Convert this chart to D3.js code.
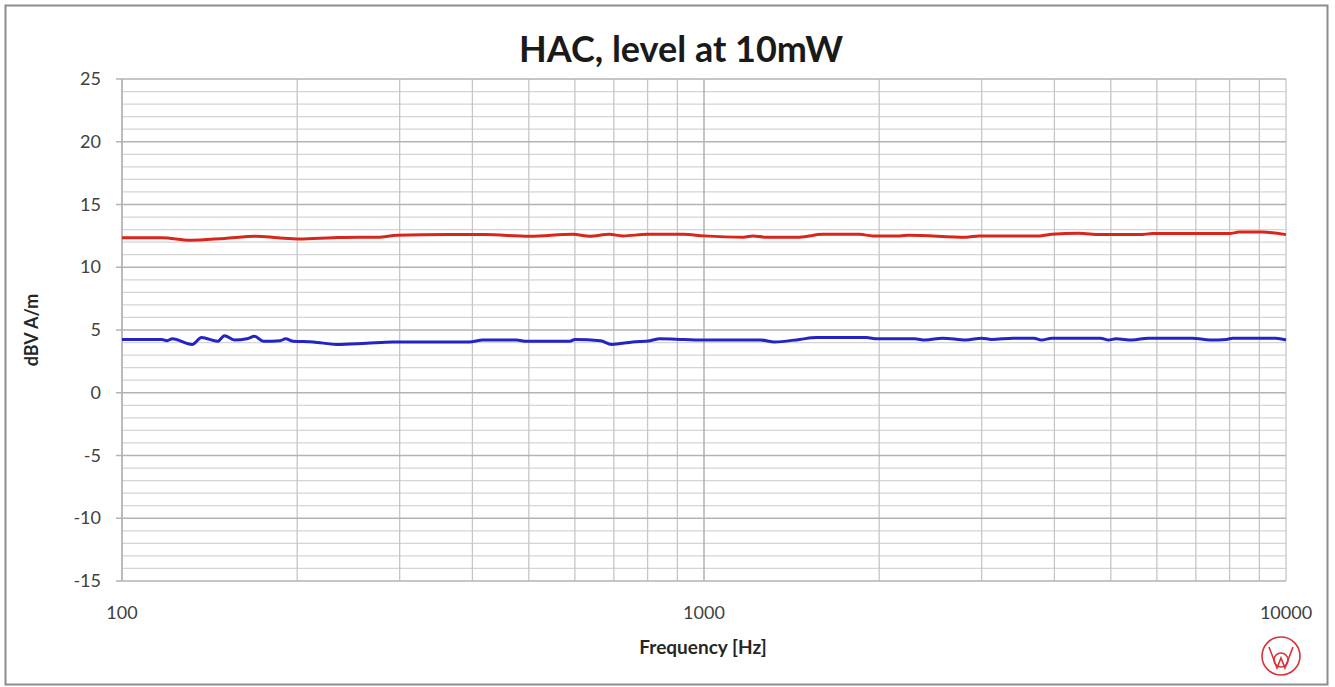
<!DOCTYPE html>
<html>
<head>
<meta charset="utf-8">
<script src="https://cdn.jsdelivr.net/npm/d3@7"></script>
<style>
  body { margin: 0; background: #fff; }
  text { font-family: Lato, "Open Sans", sans-serif; }
</style>
</head>
<body>
<div id="chart"></div>
<script>
// frequency points (Hz) and levels (dBV A/m)
const redFreq = [100, 117, 131, 150, 170, 185, 202, 230, 256, 275, 297, 361, 420, 502, 595, 636, 688, 725, 800, 920, 1000, 1170, 1213, 1275, 1460, 1600, 1850, 1950, 2170, 2250, 2820, 2970, 3780, 3960, 4400, 4800, 5600, 5900, 8000, 8300, 9100, 10000]
const redLevel = [12.35, 12.35, 12.15, 12.3, 12.47, 12.35, 12.25, 12.35, 12.4, 12.4, 12.55, 12.6, 12.6, 12.47, 12.62, 12.47, 12.62, 12.5, 12.62, 12.62, 12.5, 12.4, 12.5, 12.4, 12.4, 12.62, 12.62, 12.5, 12.5, 12.55, 12.4, 12.5, 12.5, 12.62, 12.7, 12.6, 12.6, 12.68, 12.68, 12.8, 12.8, 12.6]

const blueFreq = [100, 117, 119.5, 122, 132, 137, 146, 150, 156, 164, 169, 175, 187, 191, 197, 213, 234, 263, 292, 361, 395, 417, 476, 496, 588, 600, 664, 694, 754, 808, 840, 921, 1000, 1250, 1322, 1460, 1560, 1900, 1985, 2300, 2400, 2570, 2820, 3000, 3120, 3400, 3690, 3800, 3960, 4800, 4960, 5100, 5440, 5800, 6900, 7400, 7900, 8100, 9600, 10000]
const blueLevel = [4.24, 4.24, 4.15, 4.3, 3.85, 4.4, 4.1, 4.55, 4.2, 4.3, 4.5, 4.1, 4.15, 4.3, 4.1, 4.05, 3.85, 3.95, 4.05, 4.05, 4.05, 4.2, 4.2, 4.1, 4.1, 4.25, 4.15, 3.85, 4.05, 4.15, 4.3, 4.25, 4.2, 4.2, 4.05, 4.25, 4.4, 4.4, 4.3, 4.3, 4.2, 4.35, 4.2, 4.35, 4.25, 4.35, 4.35, 4.2, 4.35, 4.35, 4.2, 4.3, 4.2, 4.35, 4.35, 4.2, 4.25, 4.35, 4.35, 4.2]

const yTicks = [-15, -10, -5, 0, 5, 10, 15, 20, 25]
const xTicks = [100, 1000, 10000]

let width = 1335,
    height = 687
let margin = {left: 122, right: 49, top: 79, bottom: 105}

let svg = d3.select("#chart").append("svg")
    .attr("width", width)
    .attr("height", height)

// outer frame
svg.append("rect")
    .attr("x", 5.5).attr("y", 5.5)
    .attr("width", 1322).attr("height", 679)
    .attr("fill", "#fff")
    .attr("stroke", "#8c8c8c")
    .attr("stroke-width", 2)

let x = d3.scaleLog()
    .domain([100, 10000])
    .range([margin.left, width - margin.right])

let y = d3.scaleLinear()
    .domain([-15, 25])
    .range([height - margin.bottom - 1, margin.top])

let g = svg.append("g")

// minor horizontal grid, every 1 dB
g.selectAll(".hminor")
  .data(d3.range(-15, 26, 1).filter(d => d % 5 != 0))
  .enter().append("line")
    .attr("x1", x(100)).attr("x2", x(10000))
    .attr("y1", d => y(d)).attr("y2", d => y(d))
    .attr("stroke", "#d4d4d4")
    .attr("stroke-width", 1.3)

// vertical grid 100..10000
let vLines = []
for (let dec = 100; dec < 10000; dec *= 10)
  for (let k = 1; k < 10; k++) vLines.push(dec * k)
vLines.push(10000)

g.selectAll(".vgrid")
  .data(vLines)
  .enter().append("line")
    .attr("x1", d => x(d)).attr("x2", d => x(d))
    .attr("y1", y(25)).attr("y2", y(-15))
    .attr("stroke", d => d == 1000 ? "#a6a6a6" : "#c6c6c6")
    .attr("stroke-width", 1.3)

// major horizontal grid
g.selectAll(".hmajor")
  .data(yTicks)
  .enter().append("line")
    .attr("x1", x(100) - 6).attr("x2", x(10000))
    .attr("y1", d => y(d)).attr("y2", d => y(d))
    .attr("stroke", "#b3b3b3")
    .attr("stroke-width", 1.5)

// y axis line
g.append("line")
    .attr("x1", x(100)).attr("x2", x(100))
    .attr("y1", y(25)).attr("y2", y(-15))
    .attr("stroke", "#b0b0b0")
    .attr("stroke-width", 1.5)

// tick labels
g.selectAll(".ylab")
  .data(yTicks)
  .enter().append("text")
    .attr("x", x(100) - 21)
    .attr("y", d => y(d) + 6)
    .attr("text-anchor", "end")
    .attr("font-size", 18)
    .attr("fill", "#404040")
    .text(d => d)

g.selectAll(".xlab")
  .data(xTicks)
  .enter().append("text")
    .attr("x", d => x(d))
    .attr("y", 619)
    .attr("text-anchor", "middle")
    .attr("font-size", 18)
    .attr("fill", "#404040")
    .text(d => d)

// series
let line = d3.line()
    .x(d => x(d[0]))
    .y(d => y(d[1]))
    .curve(d3.curveMonotoneX)

svg.append("path")
    .datum(d3.zip(redFreq, redLevel))
    .attr("d", line)
    .attr("fill", "none")
    .attr("stroke", "#d9261c")
    .attr("stroke-width", 3)
    .attr("stroke-linejoin", "round")

svg.append("path")
    .datum(d3.zip(blueFreq, blueLevel))
    .attr("d", line)
    .attr("fill", "none")
    .attr("stroke", "#2424c4")
    .attr("stroke-width", 3)
    .attr("stroke-linejoin", "round")

// titles
svg.append("text")
    .attr("x", 681)
    .attr("y", 62)
    .attr("text-anchor", "middle")
    .attr("font-size", 36)
    .attr("font-weight", "bold")
    .attr("fill", "#1a1a1a")
    .text("HAC, level at 10mW")

svg.append("text")
    .attr("x", 703)
    .attr("y", 654)
    .attr("text-anchor", "middle")
    .attr("font-size", 19)
    .attr("font-weight", "bold")
    .attr("fill", "#262626")
    .text("Frequency [Hz]")

svg.append("text")
    .attr("transform", "translate(38,330) rotate(-90)")
    .attr("text-anchor", "middle")
    .attr("font-size", 18)
    .attr("font-weight", "bold")
    .attr("fill", "#262626")
    .text("dBV A/m")

// logo
let logo = svg.append("g")
    .attr("transform", "translate(1281,656)")
    .attr("fill", "none")
    .attr("stroke", "#d8323a")
    .attr("stroke-width", 1.6)
logo.append("circle").attr("r", 19)
logo.append("circle").attr("cx", 0).attr("cy", 4).attr("r", 7)
logo.append("path").attr("d", "M-12,-9 L-4,12 L0,2 L4,12 L12,-9")
</script>
</body>
</html>
